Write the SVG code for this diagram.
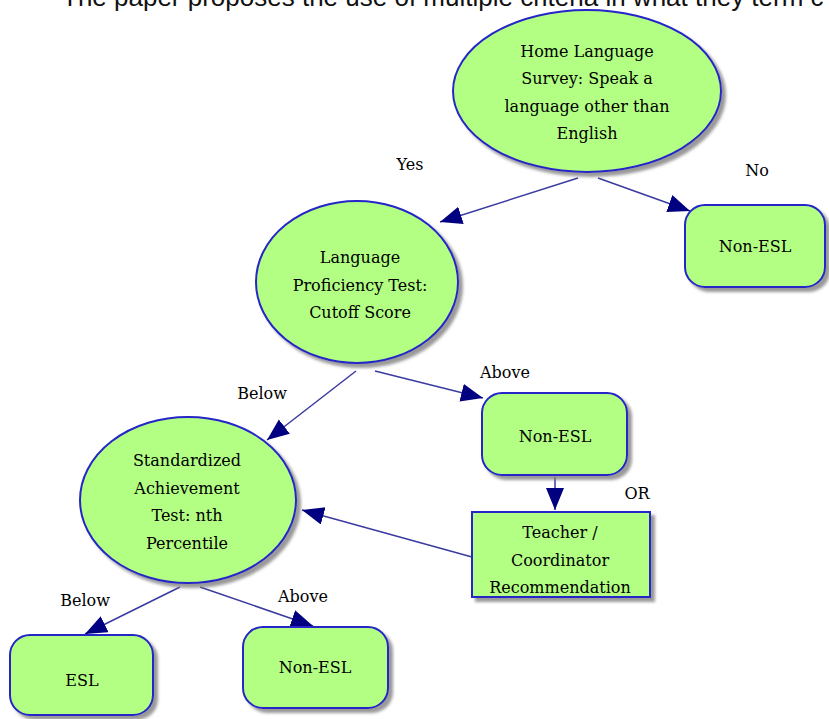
<svg xmlns="http://www.w3.org/2000/svg" width="829" height="719" viewBox="0 0 829 719">
<defs>
<filter id="sh" x="-10%" y="-10%" width="130%" height="130%">
<feDropShadow dx="4" dy="4" stdDeviation="1.5" flood-color="#808080" flood-opacity="0.8"/>
</filter>
<marker id="ah" markerUnits="userSpaceOnUse" markerWidth="24" markerHeight="20" refX="22" refY="9" orient="auto">
<path d="M0,0 L22,9 L0,18 Z" fill="#000080"/>
</marker>
</defs>
<style>
.n{fill:#b3ff84;stroke:#2525c8;stroke-width:2;filter:url(#sh)}
.t{font-size:16px;fill:#000;text-anchor:middle}
.c{stroke:#3a3aa0;stroke-width:1.5;fill:none;marker-end:url(#ah)}
.top{font-size:26px;fill:#111}
</style>
<rect width="829" height="719" fill="#fff"/>
<text class="top" x="62" y="6" font-family="Liberation Sans, Arial, sans-serif">The paper proposes the use of multiple criteria in what they term c</text>
<g id="connectors">
<line class="c" x1="578" y1="178" x2="440" y2="222"/>
<line class="c" x1="598" y1="178" x2="690" y2="211"/>
<line class="c" x1="356" y1="371" x2="267" y2="440"/>
<line class="c" x1="375" y1="371" x2="483" y2="398"/>
<line class="c" x1="555" y1="477" x2="555" y2="510"/>
<line class="c" x1="472" y1="557" x2="302" y2="510"/>
<line class="c" x1="180" y1="587" x2="85" y2="634"/>
<line class="c" x1="200" y1="587" x2="313" y2="626"/>
</g>
<g font-family="DejaVu Serif, Liberation Serif, serif">
<g id="labels">
<text class="t" x="410" y="170">Yes</text>
<text class="t" x="757" y="176">No</text>
<text class="t" x="262" y="399">Below</text>
<text class="t" x="505" y="378">Above</text>
<text class="t" x="637" y="499">OR</text>
<text class="t" x="85" y="606">Below</text>
<text class="t" x="303" y="602">Above</text>
</g>
<g id="home">
<ellipse class="n" cx="587" cy="91" rx="134" ry="81"/>
<text class="t" x="587" y="57">Home Language</text>
<text class="t" x="587" y="84">Survey: Speak a</text>
<text class="t" x="587" y="112">language other than</text>
<text class="t" x="587" y="139">English</text>
</g>
<g id="nonesl1">
<rect class="n" x="685" y="205" width="140" height="82" rx="20"/>
<text class="t" x="755" y="252">Non-ESL</text>
</g>
<g id="proficiency">
<ellipse class="n" cx="357" cy="282" rx="101" ry="81"/>
<text class="t" x="360" y="263">Language</text>
<text class="t" x="360" y="291">Proficiency Test:</text>
<text class="t" x="360" y="318">Cutoff Score</text>
</g>
<g id="nonesl2">
<rect class="n" x="482" y="393" width="145" height="82" rx="20"/>
<text class="t" x="555" y="442">Non-ESL</text>
</g>
<g id="teacher">
<rect class="n" x="472" y="512" width="178" height="85"/>
<text class="t" x="560" y="538">Teacher /</text>
<text class="t" x="560" y="566">Coordinator</text>
<text class="t" x="560" y="593">Recommendation</text>
</g>
<g id="standardized">
<ellipse class="n" cx="188" cy="500" rx="108" ry="83"/>
<text class="t" x="187" y="466">Standardized</text>
<text class="t" x="187" y="494">Achievement</text>
<text class="t" x="187" y="521">Test: nth</text>
<text class="t" x="187" y="549">Percentile</text>
</g>
<g id="esl">
<rect class="n" x="10" y="635" width="143" height="80" rx="20"/>
<text class="t" x="82" y="686">ESL</text>
</g>
<g id="nonesl3">
<rect class="n" x="243" y="627" width="145" height="81" rx="20"/>
<text class="t" x="315" y="673">Non-ESL</text>
</g>
</g>
</svg>
